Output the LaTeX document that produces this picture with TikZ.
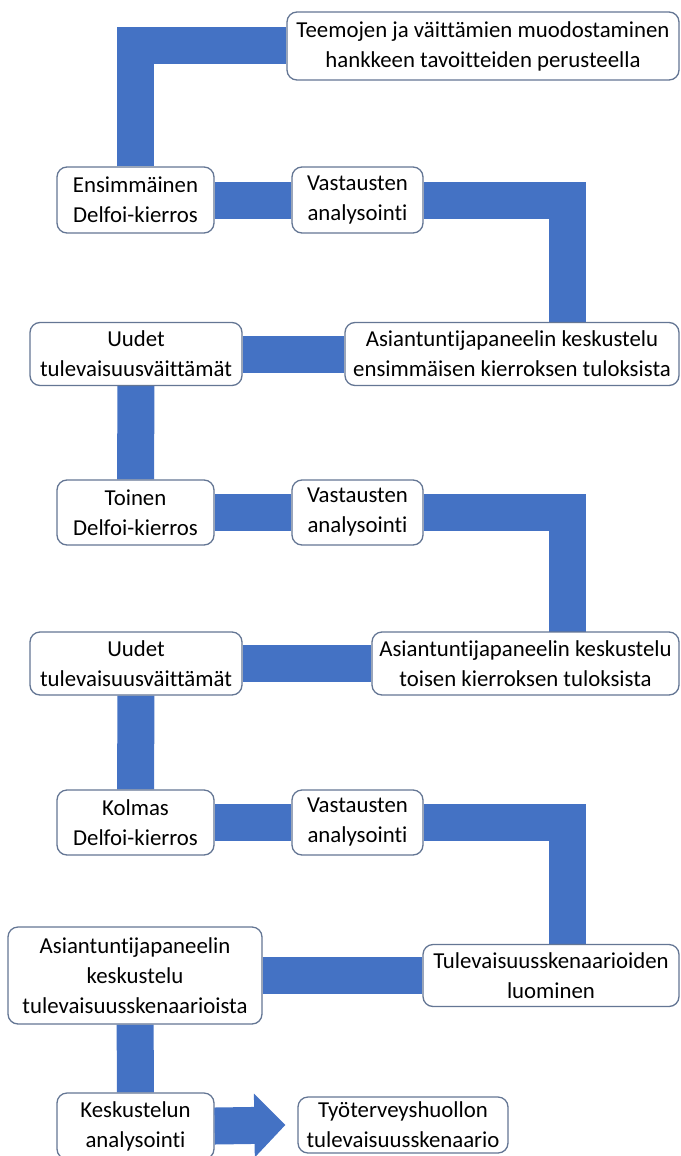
\documentclass[tikz,border=0pt]{standalone}
\usepackage{fontspec}
\setmainfont{Carlito}[Ligatures=NoCommon]
\usetikzlibrary{arrows.meta,backgrounds}
\definecolor{pipeblue}{RGB}{68,114,196}
\definecolor{boxline}{RGB}{100,118,148}
\tikzstyle{stepbox}=[draw=boxline,line width=1.3pt,fill=white,rounded corners=10pt,align=center,inner sep=0pt,font=\fontsize{22.8}{30}\selectfont]
\tikzstyle{pipe}=[draw=pipeblue,line width=37pt,line join=miter]

\begin{document}
\begin{tikzpicture}[x=1pt,y=-1pt]
    \useasboundingbox (0,0) rectangle (680,1156);

    % steps of the process
    \node[stepbox,minimum width=392pt,minimum height=68pt] (teem) at (483,46) {Teemojen ja väittämien muodostaminen\\hankkeen tavoitteiden perusteella};

    \node[stepbox,minimum width=157pt,minimum height=66pt] (ens1) at (135.5,200) {Ensimmäinen\\Delfoi-kierros};
    \node[stepbox,minimum width=131pt,minimum height=66pt] (vas1) at (357.5,200) {Vastausten\\analysointi};
    \node[stepbox,minimum width=212pt,minimum height=63pt] (uud1) at (136,354) {Uudet\\tulevaisuusväittämät};
    \node[stepbox,minimum width=334pt,minimum height=63pt] (asi1) at (512,354) {Asiantuntijapaneelin keskustelu\\ensimmäisen kierroksen tuloksista};

    \node[stepbox,minimum width=157pt,minimum height=65pt] (ens2) at (135.5,512.5) {Toinen\\Delfoi-kierros};
    \node[stepbox,minimum width=131pt,minimum height=65pt] (vas2) at (357.5,512.5) {Vastausten\\analysointi};
    \node[stepbox,minimum width=212pt,minimum height=63pt] (uud2) at (136,663.5) {Uudet\\tulevaisuusväittämät};
    \node[stepbox,minimum width=307pt,minimum height=63pt] (asi2) at (525.5,663.5) {Asiantuntijapaneelin keskustelu\\toisen kierroksen tuloksista};

    \node[stepbox,minimum width=157pt,minimum height=65pt] (ens3) at (135.5,822.5) {Kolmas\\Delfoi-kierros};
    \node[stepbox,minimum width=131pt,minimum height=65pt] (vas3) at (357.5,822.5) {Vastausten\\analysointi};
    \node[stepbox,minimum width=254pt,minimum height=97pt] (asi3) at (135,975.5) {Asiantuntijapaneelin\\keskustelu\\tulevaisuusskenaarioista};
    \node[stepbox,minimum width=256pt,minimum height=62pt] (tul) at (551,975.5) {Tulevaisuusskenaarioiden\\luominen};

    \node[stepbox,minimum width=157pt,minimum height=66pt] (kesk) at (135.5,1126) {Keskustelun\\analysointi};
    \node[stepbox,minimum width=210pt,minimum height=56pt] (tyo) at (403,1125) {Työterveyshuollon\\tulevaisuusskenaario};

    \coordinate (rcol) at (567.5,0);

    % blue pipes behind the boxes
    \begin{scope}[on background layer]
        \path[pipe] (ens1) |- (teem);
        \foreach \source/ \dest in {ens1/vas1, uud1/asi1, uud1/ens2, ens2/vas2, uud2/asi2, uud2/ens3, ens3/vas3, asi3/tul, asi3/kesk}
            \path[pipe] (\source) -- (\dest);
        \foreach \source/ \dest in {vas1/asi1, vas2/asi2, vas3/tul}
            \path[pipe] (\source) -| (rcol |- \dest);
    \end{scope}

    \draw[pipe,-{Triangle[width=62pt,length=31pt]}] (kesk.east) -- ([xshift=-12pt]tyo.west);

\end{tikzpicture}
\end{document}
